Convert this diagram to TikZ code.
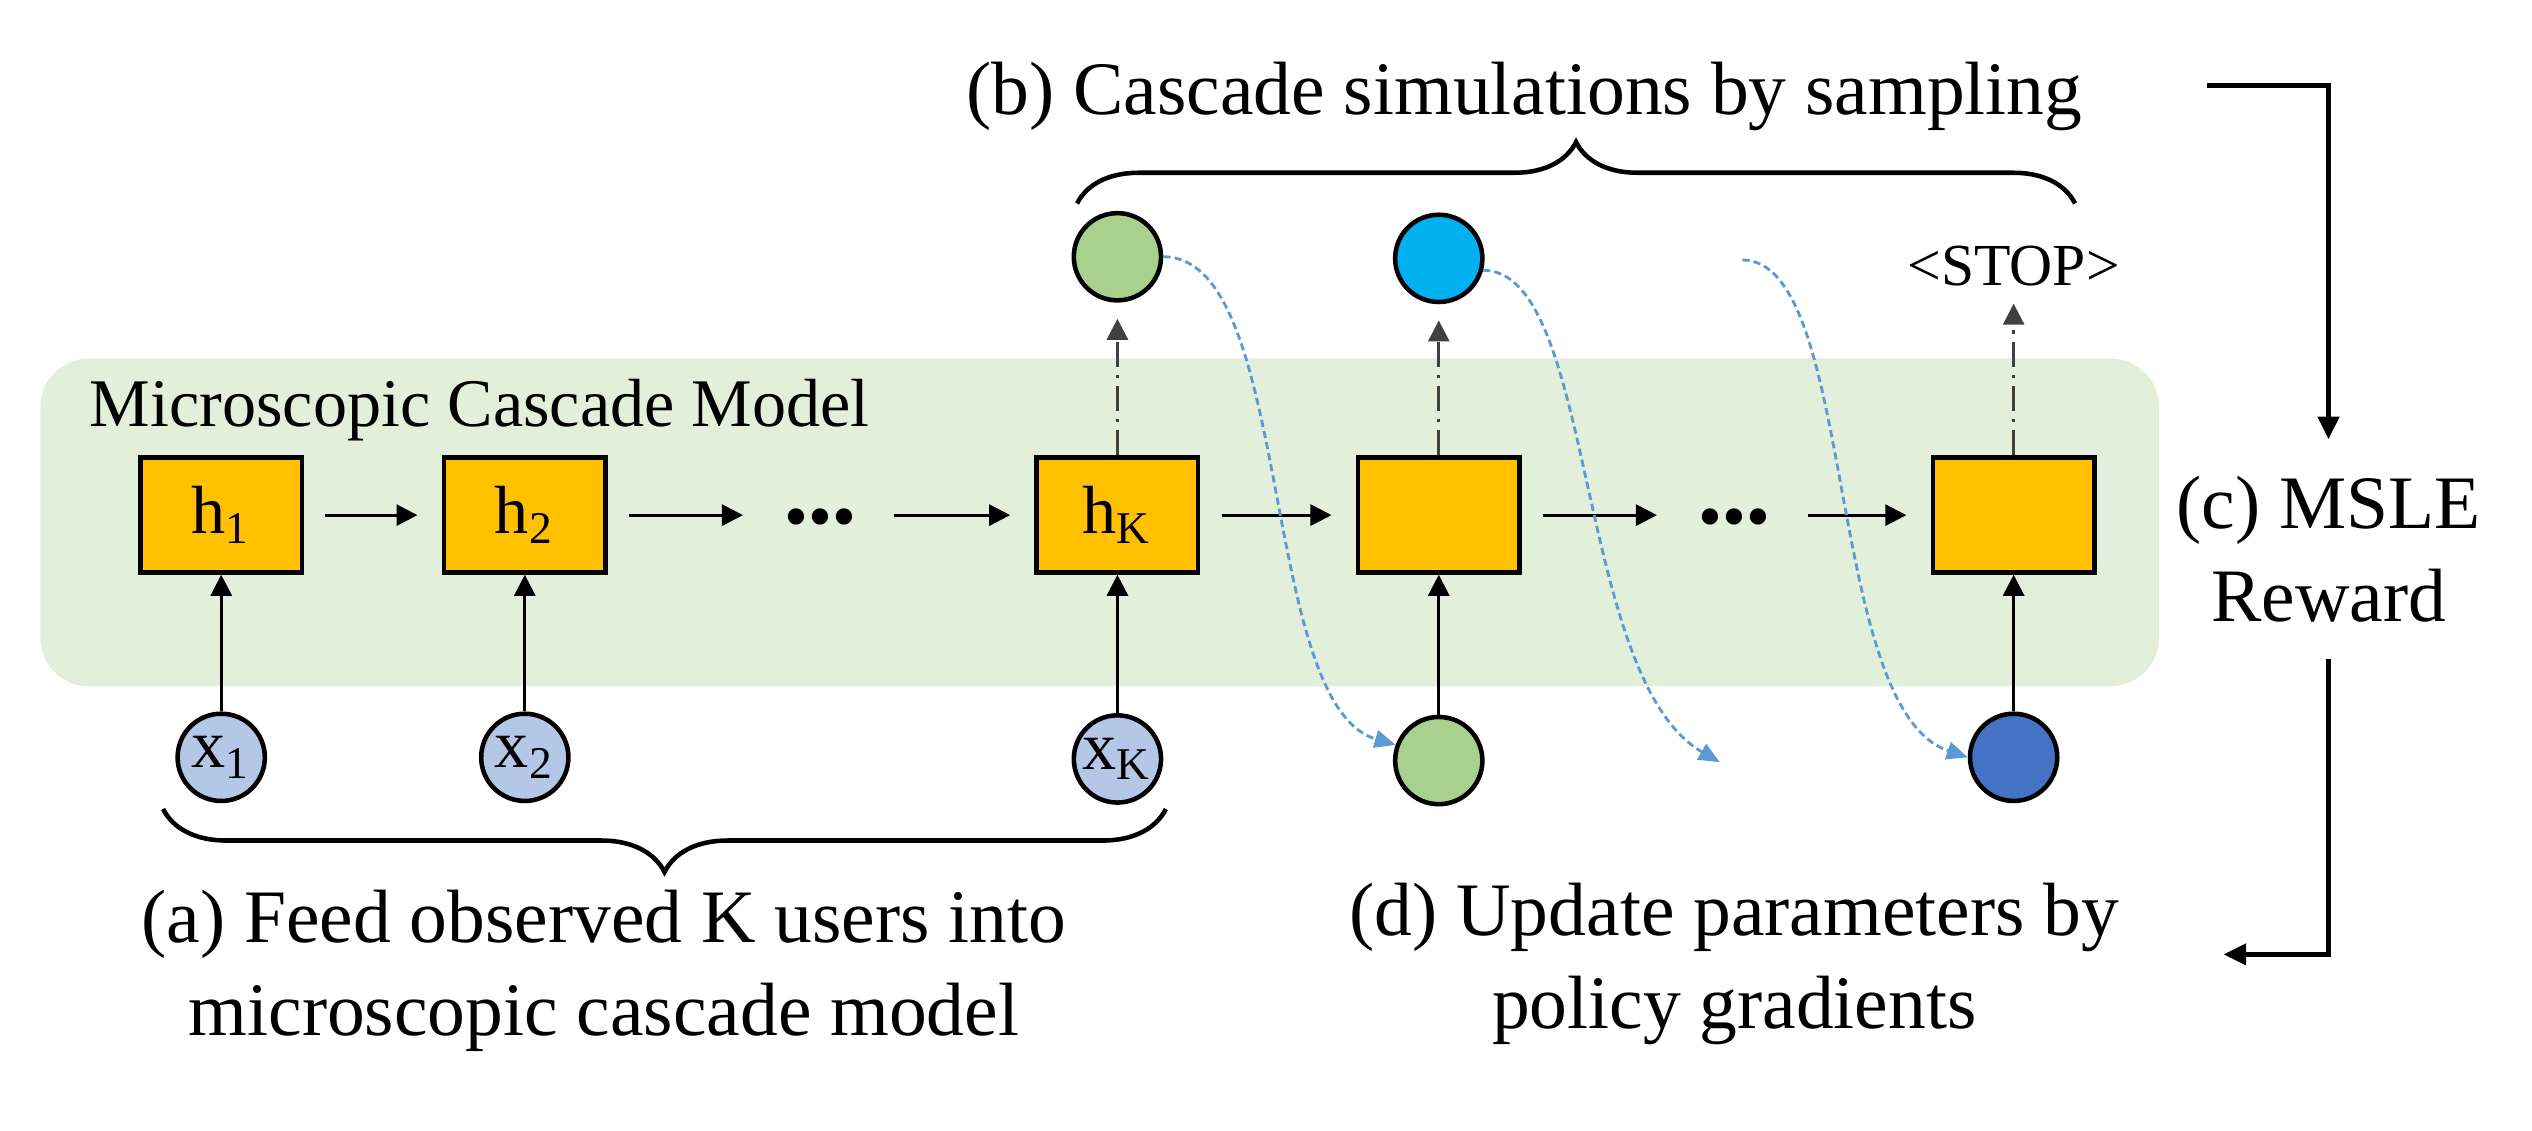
\documentclass[tikz,border=0pt]{standalone}
\usepackage{fontspec}
\setmainfont{Liberation Serif}
\usetikzlibrary{arrows.meta,decorations.pathreplacing}
\definecolor{bggreen}{HTML}{E2EFDA}
\definecolor{boxorange}{HTML}{FFC000}
\definecolor{usergreen}{HTML}{A9D18E}
\definecolor{userblue}{HTML}{B4C7E7}
\definecolor{skyblue}{HTML}{00B0F0}
\definecolor{darkblue}{HTML}{4472C4}
\definecolor{curveblue}{HTML}{5B9BD5}
\begin{document}
\begin{tikzpicture}[x=0.01cm,y=-0.01cm,
      hbox/.style={draw,line width=0.8pt,fill=boxorange,minimum width=1cm,
        minimum height=0.71cm,inner sep=0pt,font=\fontsize{12}{14}\selectfont},
      user/.style={circle,draw,line width=0.8pt,minimum size=0.54cm,inner sep=0pt,
        font=\fontsize{12}{14}\selectfont},
      forward/.style={line width=0.5pt,-{Triangle[length=0.13cm,width=0.13cm]}},
      sampled/.style={forward,black!75,shorten >=0.1cm,
        dash pattern=on 0.155cm off 0.05cm on 0.02cm off 0.05cm},
      feedback/.style={curveblue,line width=0.5pt,dash pattern=on 0.045cm off 0.025cm,
        -{Triangle[length=0.13cm,width=0.11cm]}},
      rewardline/.style={line width=0.8pt,-{Triangle[length=0.14cm,width=0.13cm]}},
      caption/.style={align=center,inner sep=0pt,font=\fontsize{13.3}{16.4}\selectfont},
      dotsbox/.style={inner ysep=0pt,inner xsep=0.1cm,text height=0.3cm,text depth=0pt,
        font=\fontsize{12}{14}\selectfont}]

  \useasboundingbox (0,0) rectangle (1568,700);
  \fill[bggreen,rounded corners=0.3cm] (25,222) rectangle (1337,425);
  \node[anchor=base west,inner sep=0pt,font=\fontsize{12}{14}\selectfont] (model) at (55,264)
    {Microscopic Cascade Model};

  \node[hbox] (h1) at (137,319) {h\textsubscript{1}};
  \node[hbox] (h2) at (325,319) {h\textsubscript{2}};
  \node[dotsbox] (d1) at (508,319) {\textbullet\textbullet\textbullet};
  \node[hbox] (hk) at (692,319) {h\textsubscript{K}};
  \node[hbox] (s1) at (891,319) {};
  \node[dotsbox] (d2) at (1074,319) {\textbullet\textbullet\textbullet};
  \node[hbox] (s2) at (1247,319) {};

  \node[user,fill=userblue] (x1) at (137,469) {x\textsubscript{1}};
  \node[user,fill=userblue] (x2) at (325,469) {x\textsubscript{2}};
  \node[user,fill=userblue] (xk) at (692,470) {x\textsubscript{K}};
  \node[user,fill=usergreen] (o1) at (692,159) {};
  \node[user,fill=skyblue] (o2) at (891,160) {};
  \node[user,fill=usergreen] (y1) at (891,471) {};
  \node[user,fill=darkblue] (y2) at (1247,469) {};
  \node[anchor=base,inner sep=0pt,font=\fontsize{10.5}{12}\selectfont] (stop) at (1247,177) {<STOP>};

  \foreach \a/\b in {h1/h2,h2/d1,d1/hk,hk/s1,s1/d2,d2/s2}
    \draw[forward,shorten <=0.13cm,shorten >=0.15cm] (\a) -- (\b);
  \foreach \a/\b in {x1/h1,x2/h2,xk/hk,y1/s1,y2/s2}
    \draw[forward] (\a) -- (\b);
  \foreach \a/\b in {hk/o1,s1/o2,s2/stop}
    \draw[sampled] (\a) -- (\b);

  \coordinate (e2) at (1065,472);
  \coordinate (b3) at (1079,161);
  \draw[feedback] (o1.east) .. controls +(81,0) and +(-85,-25) .. (y1.160);
  \draw[feedback] (o2.-15) .. controls +(70,0) and +(-90,-52) .. (e2);
  \draw[feedback] (b3) .. controls +(71,0) and +(-89,-30) .. (y2.west);

  \draw[decorate,decoration={brace,amplitude=0.38cm},line width=0.8pt] (667,126) -- (1285,126);
  \draw[decorate,decoration={brace,amplitude=0.39cm},line width=0.8pt] (722,501) -- (101,501);

  \node[caption,anchor=base] (capb) at (944,71) {(b) Cascade simulations by sampling};
  \node[caption] (capa) at (374,601) {(a) Feed observed K users into\\microscopic cascade model};
  \node[caption] (capd) at (1074,597) {(d) Update parameters by\\policy gradients};
  \node[caption,inner ysep=0.22cm] (capc) at (1442,340) {(c) MSLE\\Reward};

  \coordinate (rin) at (1367,53);
  \coordinate (rout) at (1377,591);
  \draw[rewardline] (rin) -| (capc.north);
  \draw[rewardline] (capc.south) |- (rout);

\end{tikzpicture}
\end{document}
